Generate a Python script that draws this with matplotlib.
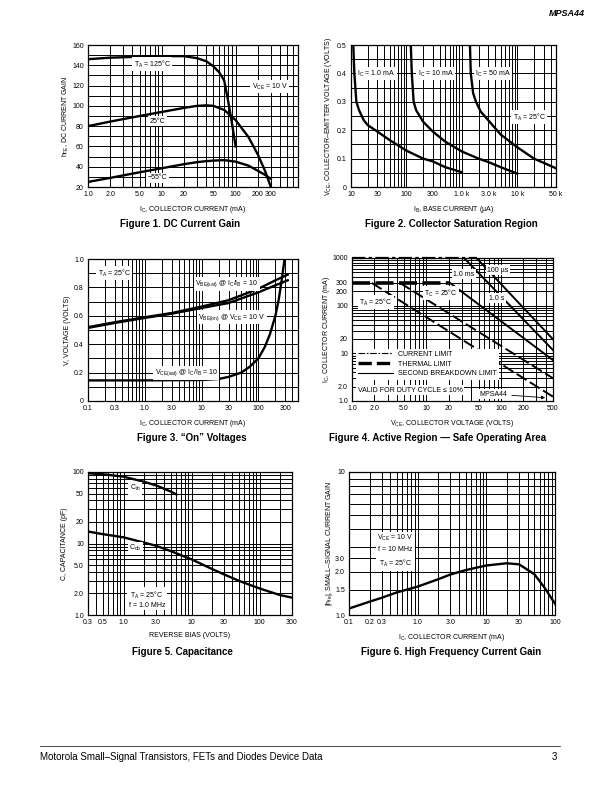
import numpy as np
import matplotlib
matplotlib.use('Agg')
import matplotlib.pyplot as plt
from matplotlib.ticker import LogLocator, NullFormatter, MultipleLocator
from matplotlib.lines import Line2D

plt.rcParams['font.family'] = ['Liberation Sans', 'DejaVu Sans']
plt.rcParams['mathtext.fontset'] = 'custom'
plt.rcParams['mathtext.rm'] = 'Liberation Sans'
plt.rcParams['axes.unicode_minus'] = False

# Figure 1 - DC current gain
ic_125 = [1, 2, 5, 10, 20, 30, 40, 50, 60, 70, 80, 90, 100]
hfe_125 = [146, 147.5, 148.5, 149, 149, 147, 144, 139, 133, 125, 103, 81, 60]
ic_25 = [1, 2, 5, 10, 20, 30, 40, 50, 70, 100, 150, 200, 250, 300]
hfe_25 = [80, 84.5, 90, 94, 98, 100, 100.5, 100, 96, 86, 69, 52, 36, 20]
hfe_m55 = [25, 29, 34.5, 38.5, 42.5, 44.5, 45.5, 46, 46.5, 45, 41, 36, 32, 28]

# Figure 2 - collector saturation region
ib_1ma = [11, 11.5, 12.5, 14, 17, 20, 30, 50, 100, 200, 300, 500, 1000]
vce_1ma = [0.5, 0.4, 0.3, 0.27, 0.235, 0.218, 0.195, 0.165, 0.128, 0.1, 0.09, 0.07, 0.052]
ib_10ma = [120, 125, 135, 150, 200, 300, 500, 1000, 2000, 3000, 5000, 10000]
vce_10ma = [0.5, 0.4, 0.3, 0.27, 0.23, 0.195, 0.16, 0.125, 0.1, 0.088, 0.07, 0.047]
ib_50ma = [1400, 1450, 1600, 1800, 2200, 3000, 5000, 10000, 20000, 30000, 50000]
vce_50ma = [0.5, 0.4, 0.33, 0.3, 0.265, 0.235, 0.185, 0.14, 0.1, 0.085, 0.066]

# Figure 3 - "On" voltages
ic_on = [0.1, 0.3, 1, 3, 10, 30, 100, 200, 330]
vbe_sat = [0.52, 0.555, 0.59, 0.62, 0.665, 0.71, 0.79, 0.85, 0.89]
vbe_on = [0.515, 0.55, 0.585, 0.615, 0.655, 0.69, 0.765, 0.815, 0.85]
ic_sat = [0.1, 1, 10, 20, 30, 50, 70, 100, 130, 160, 200, 230, 260, 290]
vce_sat = [0.145, 0.145, 0.148, 0.155, 0.17, 0.2, 0.24, 0.3, 0.38, 0.47, 0.6, 0.72, 0.86, 1.0]

# Figure 4 - safe operating area
v_curr = [1, 47]
i_curr = [1000, 1000]
v_therm = [1, 20.7]
i_therm = [300, 300]
v_100us = [47, 500]
i_100us = [1000, 19.7]
v_1ms = [32, 500]
i_1ms = [1000, 11.7]
v_tc = [20.7, 500]
i_tc = [300, 7.2]
v_mid = [4.4, 500]
i_mid = [300, 3.0]
v_ta = [1.84, 500]
i_ta = [300, 1.23]

# Figure 5 - capacitance
vr_ib = [0.3, 0.5, 1.0, 2.0, 3.0, 4.0, 5.0, 6.0]
c_ib = [96, 93, 86, 73, 65, 58, 53, 48.5]
vr_ob = [0.3, 0.5, 1, 2, 3, 5, 10, 20, 30, 50, 100, 200, 300]
c_ob = [14.7, 13.5, 12.2, 10.3, 9.3, 7.8, 6.0, 4.4, 3.7, 3.0, 2.35, 1.9, 1.75]

# Figure 6 - high frequency current gain
ic_hf = [0.1, 0.2, 0.3, 0.5, 1, 2, 3, 5, 10, 20, 30, 50, 70, 100]
hfe_hf = [1.11, 1.24, 1.32, 1.44, 1.58, 1.78, 1.92, 2.06, 2.22, 2.3, 2.26, 1.93, 1.56, 1.2]

fig = plt.figure(figsize=(6.12, 7.92), dpi=100)
FS = 5
LW = 1.7


def box(l, r, t, b):
    return fig.add_axes([l / 612, 1 - b / 792, (r - l) / 612, (b - t) / 792])


def style(ax):
    ax.grid(True, which='both', color='black', linewidth=0.7)
    ax.set_axisbelow(True)
    ax.tick_params(which='both', length=0, labelsize=FS, pad=3)
    for s in ax.spines.values():
        s.set_linewidth(0.9)


def logaxis(axis, ticks, labels, subs=np.arange(2, 10)):
    axis.set_minor_locator(LogLocator(base=10, subs=subs, numticks=100))
    axis.set_minor_formatter(NullFormatter())
    axis.set_ticks(ticks)
    axis.set_ticklabels(labels)


def note(ax, x, y, s, **kw):
    ax.text(x, y, s, fontsize=FS, ha='center', va='center', zorder=5,
            bbox=dict(facecolor='white', edgecolor='none', pad=1), **kw)


def caption(x, y, s):
    fig.text(x / 612, 1 - y / 792, s, fontsize=7, fontweight='bold', ha='center', va='center')


# ---- Figure 1
ax = box(88, 298, 45, 187)
ax.set_xscale('log')
ax.set_xlim(1, 700)
ax.set_ylim(20, 160)
logaxis(ax.xaxis, [1, 2, 5, 10, 20, 50, 100, 200, 300],
        ['1.0', '2.0', '5.0', '10', '20', '50', '100', '200', '300'])
ax.set_yticks(np.arange(20, 161, 20))
ax.yaxis.set_minor_locator(MultipleLocator(10))
style(ax)
ax.plot(ic_125, hfe_125, color='black', lw=LW)
ax.plot(ic_25, hfe_25, color='black', lw=LW)
ax.plot(ic_25, hfe_m55, color='black', lw=LW)
note(ax, 7.4, 141, r'$\mathregular{T_A}$ = 125°C')
note(ax, 290, 119, r'$\mathregular{V_{CE}}$ = 10 V')
note(ax, 8.7, 85, '25°C')
note(ax, 8.7, 29, '−55°C')
ax.set_xlabel(r'$\mathregular{I_C}$, COLLECTOR CURRENT (mA)', fontsize=FS, labelpad=4)
ax.set_ylabel(r'$\mathregular{h_{FE}}$, DC CURRENT GAIN', fontsize=FS, labelpad=1)
caption(180, 224, 'Figure 1. DC Current Gain')

# ---- Figure 2
ax = box(351, 556, 45, 187)
ax.set_xscale('log')
ax.set_xlim(10, 50000)
ax.set_ylim(0, 0.5)
logaxis(ax.xaxis, [10, 30, 100, 300, 1000, 3000, 10000, 50000],
        ['10', '30', '100', '300', '1.0 k', '3.0 k', '10 k', '50 k'])
ax.set_yticks([0, 0.1, 0.2, 0.3, 0.4, 0.5])
ax.set_yticklabels(['0', '0.1', '0.2', '0.3', '0.4', '0.5'])
ax.yaxis.set_minor_locator(MultipleLocator(0.05))
style(ax)
ax.plot(ib_1ma, vce_1ma, color='black', lw=LW)
ax.plot(ib_10ma, vce_10ma, color='black', lw=LW)
ax.plot(ib_50ma, vce_50ma, color='black', lw=LW)
note(ax, 28.5, 0.398, r'$\mathregular{I_C}$ = 1.0 mA')
note(ax, 336, 0.398, r'$\mathregular{I_C}$ = 10 mA')
note(ax, 3660, 0.398, r'$\mathregular{I_C}$ = 50 mA')
note(ax, 16500, 0.246, r'$\mathregular{T_A}$ = 25°C')
ax.set_xlabel(r'$\mathregular{I_B}$, BASE CURRENT (µA)', fontsize=FS, labelpad=4)
ax.set_ylabel(r'$\mathregular{V_{CE}}$, COLLECTOR–EMITTER VOLTAGE (VOLTS)', fontsize=FS, labelpad=2)
caption(451, 224, 'Figure 2. Collector Saturation Region')

# ---- Figure 3
ax = box(88, 298, 259, 401)
ax.set_xscale('log')
ax.set_xlim(0.1, 500)
ax.set_ylim(0, 1.0)
logaxis(ax.xaxis, [0.1, 0.3, 1, 3, 10, 30, 100, 300],
        ['0.1', '0.3', '1.0', '3.0', '10', '30', '100', '300'])
ax.set_yticks([0, 0.2, 0.4, 0.6, 0.8, 1.0])
ax.set_yticklabels(['0', '0.2', '0.4', '0.6', '0.8', '1.0'])
ax.yaxis.set_minor_locator(MultipleLocator(0.1))
style(ax)
ax.plot(ic_on, vbe_sat, color='black', lw=LW)
ax.plot(ic_on, vbe_on, color='black', lw=LW)
ax.plot(ic_sat, vce_sat, color='black', lw=LW)
note(ax, 0.29, 0.90, r'$\mathregular{T_A}$ = 25°C')
note(ax, 27.7, 0.824, r'$\mathregular{V_{BE(sat)}}$ @ $\mathregular{I_C/I_B}$ = 10')
note(ax, 33.9, 0.59, r'$\mathregular{V_{BE(on)}}$ @ $\mathregular{V_{CE}}$ = 10 V')
note(ax, 5.4, 0.197, r'$\mathregular{V_{CE(sat)}}$ @ $\mathregular{I_C/I_B}$ = 10')
ax.set_xlabel(r'$\mathregular{I_C}$, COLLECTOR CURRENT (mA)', fontsize=FS, labelpad=4)
ax.set_ylabel('V, VOLTAGE (VOLTS)', fontsize=FS, labelpad=2)
caption(192, 438, 'Figure 3. “On” Voltages')

# ---- Figure 4
ax = box(352, 553, 258, 401)
ax.set_xscale('log')
ax.set_yscale('log')
ax.set_xlim(1, 500)
ax.set_ylim(1, 1000)
logaxis(ax.xaxis, [1, 2, 5, 10, 20, 50, 100, 200, 500],
        ['1.0', '2.0', '5.0', '10', '20', '50', '100', '200', '500'])
logaxis(ax.yaxis, [1, 2, 10, 20, 100, 200, 300, 1000],
        ['1.0', '2.0', '10', '20', '100', '200', '300', '1000'])
style(ax)
ax.plot(v_curr, i_curr, color='black', lw=1.6, ls=(0, (6, 1.5, 1.5, 1.5)), clip_on=False, zorder=4)
ax.plot(v_therm, i_therm, color='black', lw=2.6, ls=(0, (5, 1.5)), zorder=4)
ax.plot(v_100us, i_100us, color='black', lw=1.4)
ax.plot(v_1ms, i_1ms, color='black', lw=1.4)
ax.plot(v_tc, i_tc, color='black', lw=1.4)
ax.plot(v_mid, i_mid, color='black', lw=1.4, ls=(0, (6, 2)))
ax.plot(v_ta, i_ta, color='black', lw=1.4, ls=(0, (6, 2)))
note(ax, 31.9, 459, '1.0 ms')
note(ax, 91, 557, '100 µs')
note(ax, 15.7, 184, r'$\mathregular{T_C}$ = 25°C')
note(ax, 88, 144, '1.0 s')
note(ax, 2.1, 119, r'$\mathregular{T_A}$ = 25°C')
note(ax, 6.0, 1.70, 'VALID FOR DUTY CYCLE ≤ 10%')
ax.annotate('MPSA44', xy=(427, 1.16), xytext=(80, 1.4), fontsize=FS, ha='center', va='center',
            bbox=dict(facecolor='white', edgecolor='none', pad=1),
            arrowprops=dict(arrowstyle='-|>', lw=0.6, color='black', mutation_scale=5))
handles = [Line2D([], [], color='black', lw=0.8, ls=(0, (6, 1.5, 1.5, 1.5))),
           Line2D([], [], color='black', lw=2.4, ls=(0, (4, 1.5))),
           Line2D([], [], color='black', lw=0.8)]
leg = ax.legend(handles, ['CURRENT LIMIT', 'THERMAL LIMIT', 'SECOND BREAKDOWN LIMIT'],
                loc='lower left', bbox_to_anchor=(0.02, 0.15), fontsize=FS, frameon=True,
                fancybox=False, framealpha=1, edgecolor='none', facecolor='white',
                handlelength=5, handletextpad=0.8, labelspacing=0.4, borderpad=0.3,
                borderaxespad=0)
ax.set_xlabel(r'$\mathregular{V_{CE}}$, COLLECTOR VOLTAGE (VOLTS)', fontsize=FS, labelpad=4)
ax.set_ylabel(r'$\mathregular{I_C}$, COLLECTOR CURRENT (mA)', fontsize=FS, labelpad=0)
caption(438, 438, 'Figure 4. Active Region — Safe Operating Area')

# ---- Figure 5
ax = box(88, 292, 472, 615)
ax.set_xscale('log')
ax.set_yscale('log')
ax.set_xlim(0.3, 300)
ax.set_ylim(1, 100)
logaxis(ax.xaxis, [0.3, 0.5, 1, 3, 10, 30, 100, 300],
        ['0.3', '0.5', '1.0', '3.0', '10', '30', '100', '300'])
logaxis(ax.yaxis, [1, 2, 5, 10, 20, 50, 100],
        ['1.0', '2.0', '5.0', '10', '20', '50', '100'])
style(ax)
ax.plot(vr_ib, c_ib, color='black', lw=LW)
ax.plot(vr_ob, c_ob, color='black', lw=LW)
note(ax, 1.47, 59.7, r'$\mathregular{C_{ib}}$')
note(ax, 1.5, 8.65, r'$\mathregular{C_{ob}}$')
note(ax, 2.21, 1.67, '$\\mathregular{T_A}$ = 25°C\nf = 1.0 MHz')
ax.set_xlabel('REVERSE BIAS (VOLTS)', fontsize=FS, labelpad=4)
ax.set_ylabel('C, CAPACITANCE (pF)', fontsize=FS, labelpad=3)
caption(182, 652, 'Figure 5. Capacitance')

# ---- Figure 6
ax = box(349, 555, 472, 615)
ax.set_xscale('log')
ax.set_yscale('log')
ax.set_xlim(0.1, 100)
ax.set_ylim(1, 10)
logaxis(ax.xaxis, [0.1, 0.2, 0.3, 1, 3, 10, 30, 100],
        ['0.1', '0.2', '0.3', '1.0', '3.0', '10', '30', '100'])
logaxis(ax.yaxis, [1, 1.5, 2, 2.5, 10], ['1.0', '1.5', '2.0', '3.0', '10'],
        subs=[1.5, 2, 2.5, 3, 4, 5, 6, 7, 8, 9])
style(ax)
ax.plot(ic_hf, hfe_hf, color='black', lw=LW)
note(ax, 0.47, 2.8, '$\\mathregular{V_{CE}}$ = 10 V\nf = 10 MHz\n$\\mathregular{T_A}$ = 25°C',
     linespacing=1.6)
ax.set_xlabel(r'$\mathregular{I_C}$, COLLECTOR CURRENT (mA)', fontsize=FS, labelpad=4)
ax.set_ylabel(r'|$\mathregular{h_{fe}}$|, SMALL–SIGNAL CURRENT GAIN', fontsize=FS, labelpad=0)
caption(451, 652, 'Figure 6. High Frequency Current Gain')

# page header and footer
fig.text(585 / 612, 1 - 13 / 792, 'MPSA44', fontsize=6.5, fontweight='bold', fontstyle='italic',
         ha='right', va='center')
fig.add_artist(Line2D([40 / 612, 560 / 612], [1 - 746 / 792, 1 - 746 / 792], color='black', lw=0.5))
fig.text(40 / 612, 1 - 757 / 792, 'Motorola Small–Signal Transistors, FETs and Diodes Device Data',
         fontsize=7, ha='left', va='center')
fig.text(557 / 612, 1 - 757 / 792, '3', fontsize=7, ha='right', va='center')

fig.savefig('out.png', dpi=100)
